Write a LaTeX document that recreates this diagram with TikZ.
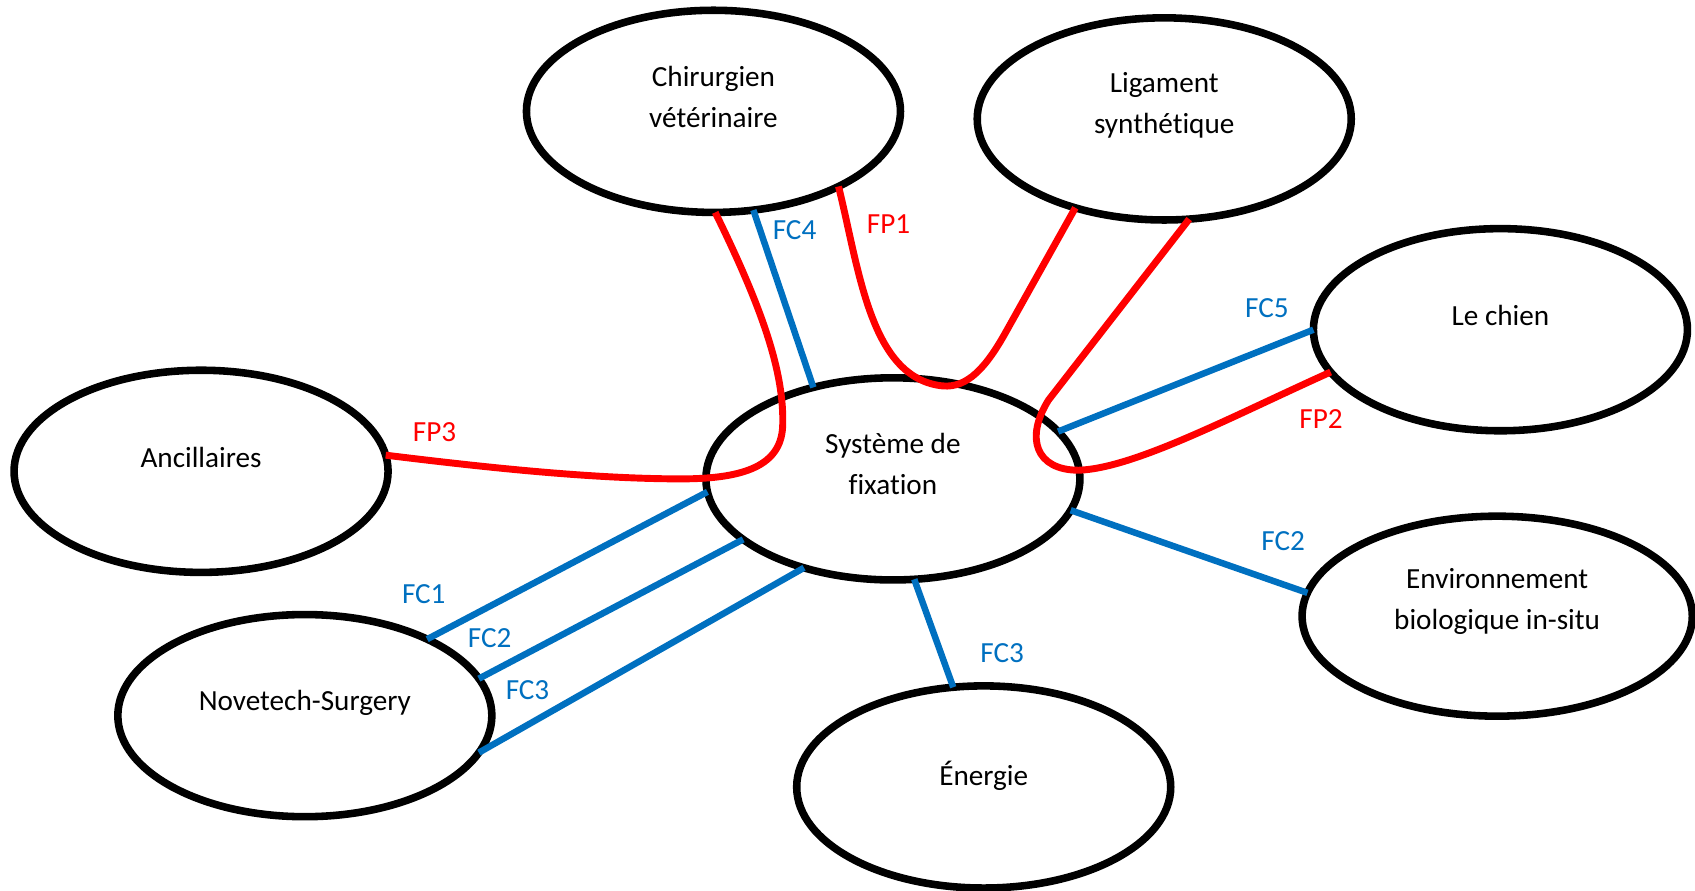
\documentclass[tikz,border=0pt]{standalone}
\usepackage{fontspec}
\setmainfont[Ligatures=NoCommon]{Carlito}
\usepackage{xcolor}
\usepackage{tikz}
\usetikzlibrary{shapes.geometric}
\definecolor{fcblue}{HTML}{0070C0}
\definecolor{fpred}{HTML}{FF0000}
\tikzset{
  bubble/.style={
    ellipse,
    draw=black,
    line width=3.5pt,
    minimum width=173pt,
    minimum height=93.5pt,
    inner sep=0pt,
    outer sep=0pt
  },
  bubble text/.style={
    font=\fontsize{13.5}{19}\selectfont,
    align=center
  },
  fc link/.style={line width=3pt, color=fcblue},
  fp link/.style={line width=3.2pt, color=fpred},
  fc label/.style={font=\fontsize{13.5}{16}\selectfont, text=fcblue},
  fp label/.style={font=\fontsize{13.5}{16}\selectfont, text=fpred}
}
\begin{document}
\begin{tikzpicture}[x=0.5pt, y=-0.5pt]
  \useasboundingbox (0,0) rectangle (1568,824);

  % Ellipses
  \node[bubble] (chir) at (660,103) {};
  \node[bubble] (lig) at (1077,110) {};
  \node[bubble] (chien) at (1388,305) {};
  \node[bubble] (anc) at (186,436) {};
  \node[bubble] (sys) at (826,443) {};
  \node[bubble] (nov) at (282,662) {};
  \node[bubble, minimum width=180.5pt, minimum height=92.5pt] (env) at (1385,570) {};
  \node[bubble] (ener) at (910,728) {};

  % Texts
  \node[bubble text] (chir-t) at ([yshift=6.5pt]chir) {Chirurgien\\vétérinaire};
  \node[bubble text] (lig-t) at ([yshift=6.5pt]lig) {Ligament\\synthétique};
  \node[bubble text] (chien-t) at ([yshift=6.5pt]chien) {Le chien};
  \node[bubble text] (anc-t) at ([yshift=6.5pt]anc) {Ancillaires};
  \node[bubble text] (sys-t) at ([yshift=7pt]sys) {Système de\\fixation};
  \node[bubble text] (nov-t) at ([yshift=6pt]nov) {Novetech-Surgery};
  \node[bubble text] (env-t) at ([yshift=7pt]env) {Environnement\\biologique in-situ};
  \node[bubble text] (ener-t) at ([yshift=5pt]ener) {Énergie};

  % Constraint functions
  \draw[fc link] (chir.-68) -- (sys.131);
  \draw[fc link] (sys.16) -- (chien.180);
  \draw[fc link] (sys.184) -- (nov.32);
  \draw[fc link] (sys.202) -- (nov.12);
  \draw[fc link] (sys.225) -- (nov.-12);
  \draw[fc link] (sys.-10) -- (env.173);
  \draw[fc link] (sys.-78) -- (ener.107);

  % Main functions
  \draw[fp link] (chir.-31) .. controls (795,250) and (805,350) .. (872,357)
    .. controls (895,359) and (912,340) .. (930,308) -- (lig.225);
  \draw[fp link] (lig.-76) -- (970,370) .. controls (948,405) and (958,435) .. (998,435)
    .. controls (1050,433) and (1140,385) .. (chien.194);
  \draw[fp link] (chir.-89) .. controls (705,285) and (726,345) .. (724,395)
    .. controls (722,430) and (690,443) .. (630,443)
    .. controls (540,443) and (430,430) .. (anc.5);

  % Labels
  \node[fc label] (fc4) at (735,213) {FC4};
  \node[fp label] (fp1) at (822,207) {FP1};
  \node[fc label] (fc5) at (1172,285) {FC5};
  \node[fp label] (fp2) at (1222,388) {FP2};
  \node[fp label] (fp3) at (402,400) {FP3};
  \node[fc label] (fc1) at (392,550) {FC1};
  \node[fc label] (fc2a) at (453,590) {FC2};
  \node[fc label] (fc3a) at (488,638) {FC3};
  \node[fc label] (fc2b) at (1187,501) {FC2};
  \node[fc label] (fc3b) at (927,604) {FC3};
\end{tikzpicture}
\end{document}
